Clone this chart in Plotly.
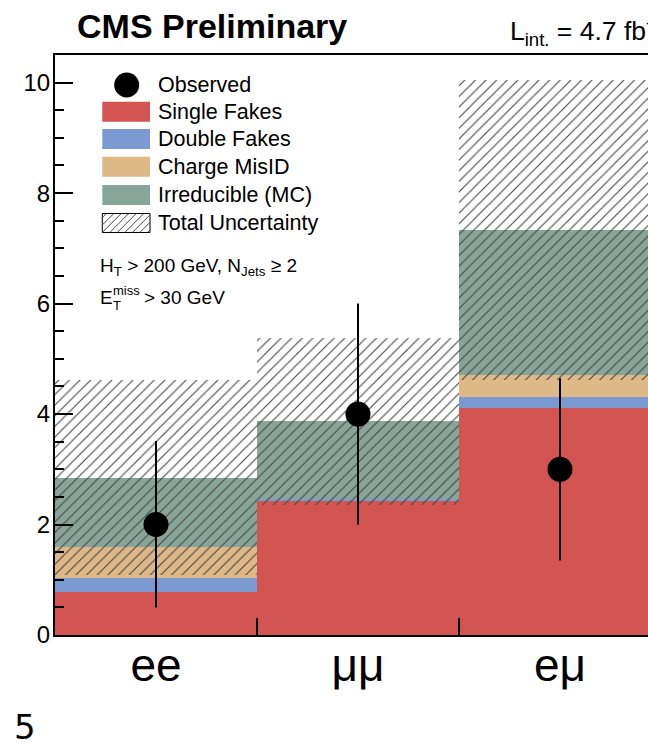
import numpy as np
import plotly.graph_objects as go

# ---------------- data ----------------
categories = ["ee", "μμ", "eμ"]
single_fakes = [0.77, 2.44, 4.11]
double_fakes = [0.27, 0.02, 0.20]
charge_misid = [0.55, 0.00, 0.39]
irreducible = [1.26, 1.41, 2.63]
total_unc = [1.77, 1.51, 2.71]
observed = [2, 4, 3]
obs_err_up = [1.51, 2.00, 1.65]
obs_err_down = [1.50, 2.00, 1.65]
y_tick_vals = [0, 2, 4, 6, 8, 10]

series_names = ["Single Fakes", "Double Fakes", "Charge MisID", "Irreducible (MC)"]
series_colors = ["#D35552", "#7B9AD1", "#DEB887", "#88A59A"]
series_values = [single_fakes, double_fakes, charge_misid, irreducible]

FONT = "Liberation Sans, Arial, Helvetica, sans-serif"
HATCH = "#454545"

# bin centres / boundaries derived from category count
n = len(categories)
centers = np.arange(n) + 0.5
boundaries = list(np.arange(1, n))

fig = go.Figure()

# stacked components (overlay with explicit bases)
base = np.zeros(n)
for name, vals, col in zip(series_names, series_values, series_colors):
    vals = np.array(vals, dtype=float)
    fig.add_trace(go.Bar(
        x=centers, y=vals, base=base.copy(), width=1.0, name=name,
        marker=dict(color=col, line=dict(width=0)), showlegend=False,
        hoverinfo="skip"))
    base = base + vals

total = base
unc = np.array(total_unc)
fig.add_trace(go.Bar(
    x=centers, y=2 * unc, base=total - unc, width=1.0, name="Total Uncertainty",
    marker=dict(color="rgba(0,0,0,0)", line=dict(width=0),
                pattern=dict(shape="/", fgcolor=HATCH, bgcolor="rgba(0,0,0,0)",
                             size=7.5, solidity=0.15, fillmode="replace")),
    showlegend=False, hoverinfo="skip"))

fig.add_trace(go.Scatter(
    x=centers, y=observed, mode="markers", name="Observed",
    marker=dict(color="black", size=25),
    error_y=dict(type="data", symmetric=False, array=obs_err_up,
                 arrayminus=obs_err_down, color="black", thickness=2, width=0),
    showlegend=False, hoverinfo="skip"))

# ---------------- layout ----------------
# visible plot area in screen pixels (page margin removed by post_script);
# the full frame would end at x=661, beyond the window, so it is cropped.
SL, SR, ST, SB = 55, 648, 55, 635
FULL_R = 661
FIG_W, FIG_H = 648, 750


def px(x):
    return (x - SL) / (SR - SL)


def py(y):
    return (SB - y) / (SB - ST)


fig.update_layout(
    width=FIG_W, height=FIG_H,
    margin=dict(l=SL, r=FIG_W - SR, t=ST, b=FIG_H - SB, pad=0,
                autoexpand=False),
    paper_bgcolor="white", plot_bgcolor="white",
    barmode="overlay", bargap=0,
    font=dict(family=FONT, color="black"),
    showlegend=False,
)

fig.update_xaxes(
    range=[0, n * (SR - SL) / (FULL_R - SL)], showgrid=False, zeroline=False,
    showline=True, linecolor="black", linewidth=2, mirror=True,
    tickmode="array", tickvals=centers, ticktext=categories, ticks="",
    tickfont=dict(size=46, family=FONT, color="black"),
    minor=dict(tickmode="array", tickvals=boundaries, ticks="inside",
               ticklen=17, tickwidth=1.5, tickcolor="black"),
    ticklabelstandoff=-11, automargin=False,
)
fig.update_yaxes(
    range=[0, 10.5], showgrid=False, zeroline=False,
    showline=True, linecolor="black", linewidth=2, mirror=False,
    tickmode="array", tickvals=y_tick_vals, ticks="inside", ticklen=18,
    tickwidth=1.5, tickcolor="black",
    tickfont=dict(size=24, family=FONT, color="black"),
    minor=dict(dtick=0.5, ticks="inside", ticklen=9, tickwidth=1.5,
               tickcolor="black"),
    ticklabelstandoff=-2, automargin=False,
)

annotations = []
shapes = []

# headers
annotations.append(dict(text="<b>CMS Preliminary</b>", x=px(75), y=py(26),
                        xref="paper", yref="paper", xanchor="left",
                        yanchor="middle", showarrow=False,
                        font=dict(size=34, family=FONT)))
annotations.append(dict(text="L<sub>int.</sub> = 4.7 fb<sup>-1</sup>",
                        x=px(508), y=py(31), xref="paper", yref="paper",
                        xanchor="left", yanchor="middle", showarrow=False,
                        font=dict(size=26.5, family=FONT)))
annotations.append(dict(text="5", x=px(25), y=py(727), xref="paper",
                        yref="paper", xanchor="center", yanchor="middle",
                        showarrow=False, font=dict(size=34, family="DejaVu Sans")))

# legend
leg_text_x = 156
rows_y = [85, 111.7, 139, 166.7, 195, 223]
labels = ["Observed"] + series_names + ["Total Uncertainty"]
for lab, yy in zip(labels, rows_y):
    annotations.append(dict(text=lab, x=px(leg_text_x), y=py(yy), xref="paper",
                            yref="paper", xanchor="left", yanchor="middle",
                            showarrow=False, font=dict(size=21.5, family=FONT)))

# observed marker swatch
shapes.append(dict(type="circle", xref="paper", yref="paper",
                   xsizemode="pixel", ysizemode="pixel",
                   xanchor=px(126.7), yanchor=py(85),
                   x0=-12.5, x1=12.5, y0=-12.5, y1=12.5,
                   fillcolor="black", line=dict(width=0)))
sw_x0, sw_x1 = 102.3, 150
for col, yy in zip(series_colors, rows_y[1:5]):
    shapes.append(dict(type="rect", xref="paper", yref="paper",
                       x0=px(sw_x0), x1=px(sw_x1), y0=py(yy + 10), y1=py(yy - 10),
                       fillcolor=col, line=dict(width=0)))
# hatched swatch
hy0, hy1 = rows_y[5] - 9.5, rows_y[5] + 9.5
shapes.append(dict(type="rect", xref="paper", yref="paper",
                   x0=px(sw_x0), x1=px(sw_x1), y0=py(hy1), y1=py(hy0),
                   fillcolor="white", line=dict(width=1, color="black")))
c = sw_x0 + hy0 + 4
while c < sw_x1 + hy1:
    xa = max(sw_x0, c - hy1)
    xb = min(sw_x1, c - hy0)
    if xb > xa:
        shapes.append(dict(type="line", xref="paper", yref="paper",
                           x0=px(xa), y0=py(c - xa), x1=px(xb), y1=py(c - xb),
                           line=dict(width=1, color=HATCH)))
    c += 7.5

# selection text
annotations.append(dict(text="H<sub>T</sub> > 200 GeV, N<sub>Jets</sub> ≥ 2",
                        x=px(98), y=py(267), xref="paper", yref="paper",
                        xanchor="left", yanchor="middle", showarrow=False,
                        font=dict(size=19, family=FONT)))
annotations.append(dict(text="E", x=px(98), y=py(297.5), xref="paper",
                        yref="paper", xanchor="left", yanchor="middle",
                        showarrow=False, font=dict(size=19, family=FONT)))
annotations.append(dict(text="miss", x=px(111), y=py(290), xref="paper",
                        yref="paper", xanchor="left", yanchor="middle",
                        showarrow=False, font=dict(size=13, family=FONT)))
annotations.append(dict(text="T", x=px(111), y=py(305), xref="paper",
                        yref="paper", xanchor="left", yanchor="middle",
                        showarrow=False, font=dict(size=13, family=FONT)))
annotations.append(dict(text="> 30 GeV", x=px(142), y=py(297.5), xref="paper",
                        yref="paper", xanchor="left", yanchor="middle",
                        showarrow=False, font=dict(size=19, family=FONT)))

fig.update_layout(annotations=annotations, shapes=shapes)

fig.write_html(
    "out.html",
    config={"displayModeBar": False},
    post_script="document.body.style.margin='0';"
                "document.body.style.overflow='hidden';",
)
